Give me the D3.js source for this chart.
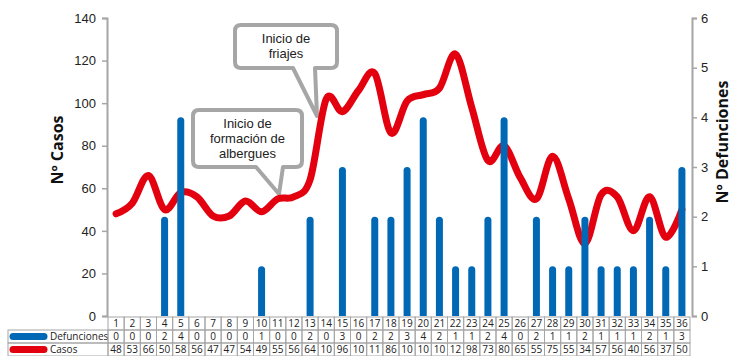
<!DOCTYPE html>
<html>
<head>
<meta charset="utf-8">
<script src="https://cdn.jsdelivr.net/npm/d3@7"></script>
<style>
  body { margin: 0; background: #fff; }
  svg { display: block; font-family: "Open Sans", "Liberation Sans", sans-serif; }
</style>
</head>
<body>
<svg id="chart" width="732" height="356"></svg>
<script>
// Semanas epidemiológicas
const weeks = d3.range(1, 37);
const defunciones = [0,0,0,2,4,0,0,0,0,1,0,0,2,0,3,0,2,2,3,4,2,1,1,2,4,0,2,1,1,2,1,1,1,2,1,3];
const casos = [48,53,66,50,58,56,47,47,54,49,55,56,64,102,96,106,114,86,101,104,107,123,98,73,80,65,55,75,55,34,57,56,40,56,37,50];
const casosTicks = [0,20,40,60,80,100,120,140];
const defTicks = [0,1,2,3,4,5,6];

const RED = '#e3000f';
const BLUE = '#0068b5';
const GRAY = '#a6a6a6';

const svg = d3.select('#chart');
const plot = { left: 108, right: 690, top: 18, bottom: 316 };

const x = d3.scaleBand().domain(weeks).range([plot.left, plot.right]).padding(0);
const cx = d => x(d) + x.bandwidth() / 2;
const yCasos = d3.scaleLinear().domain([0, 140]).range([plot.bottom, plot.top]);
const yDef = d3.scaleLinear().domain([0, 6]).range([plot.bottom, plot.top]);

// clip so bars end flat on the axis
svg.append('defs').append('clipPath').attr('id', 'plot-clip')
  .append('rect')
  .attr('x', plot.left).attr('y', 0)
  .attr('width', plot.right - plot.left).attr('height', plot.bottom);

// Axes
const leftAxis = svg.append('g')
  .attr('transform', `translate(${plot.left - 1},0)`)
  .call(d3.axisLeft(yCasos).tickValues(casosTicks).tickSize(5).tickPadding(6));
const rightAxis = svg.append('g')
  .attr('transform', `translate(${plot.right + 2},0)`)
  .call(d3.axisRight(yDef).tickValues(defTicks).tickFormat(d3.format('d')).tickSize(5).tickPadding(4));
[leftAxis, rightAxis].forEach(a => {
  a.select('.domain').attr('stroke', GRAY).attr('stroke-width', 2);
  a.selectAll('.tick line').attr('stroke', GRAY).attr('stroke-width', 1.5);
  a.selectAll('.tick text').attr('fill', '#222').attr('font-size', 13);
});

svg.append('text')
  .attr('transform', 'translate(63,150) rotate(-90)')
  .attr('text-anchor', 'middle')
  .attr('font-size', 16).attr('font-weight', 'bold').attr('fill', '#111')
  .text('Nº Casos');
svg.append('text')
  .attr('transform', 'translate(728,142) rotate(-90)')
  .attr('text-anchor', 'middle')
  .attr('font-size', 16).attr('font-weight', 'bold').attr('fill', '#111')
  .text('Nº Defunciones');

// Callouts
function callout(b, base, tip) {
  const r = 6;
  return `M${b.x0 + r},${b.y0} H${b.x1 - r} Q${b.x1},${b.y0} ${b.x1},${b.y0 + r}` +
    ` V${b.y1 - r} Q${b.x1},${b.y1} ${b.x1 - r},${b.y1}` +
    ` H${base[1]} L${tip[0]},${tip[1]} L${base[0]},${b.y1}` +
    ` H${b.x0 + r} Q${b.x0},${b.y1} ${b.x0},${b.y1 - r}` +
    ` V${b.y0 + r} Q${b.x0},${b.y0} ${b.x0 + r},${b.y0} Z`;
}
const notes = [
  { box: { x0: 235, y0: 25, x1: 337, y1: 68 }, base: [293, 315], tip: [317, 116],
    lines: ['Inicio de', 'friajes'], ty: 43 },
  { box: { x0: 193, y0: 110, x1: 302, y1: 167 }, base: [256, 283], tip: [279, 194],
    lines: ['Inicio de', 'formación de', 'albergues'], ty: 128 }
];
const noteG = svg.append('g');
notes.forEach(n => {
  noteG.append('path')
    .attr('d', callout(n.box, n.base, n.tip))
    .attr('fill', '#fff').attr('stroke', GRAY).attr('stroke-width', 4)
    .attr('stroke-linejoin', 'round');
  n.lines.forEach((t, i) => {
    noteG.append('text')
      .attr('x', (n.box.x0 + n.box.x1) / 2).attr('y', n.ty + i * 15)
      .attr('text-anchor', 'middle').attr('font-size', 13).attr('fill', '#222')
      .attr('font-family', '"Liberation Sans", sans-serif')
      .text(t);
  });
});

// Casos line
const line = d3.line()
  .x((d, i) => cx(weeks[i]))
  .y(d => yCasos(d))
  .curve(d3.curveCardinal.tension(0));
svg.append('path')
  .datum(casos)
  .attr('d', line)
  .attr('fill', 'none').attr('stroke', RED).attr('stroke-width', 7)
  .attr('stroke-linecap', 'round').attr('stroke-linejoin', 'round');

// Defunciones bars
const bw = 7;
svg.append('g').attr('clip-path', 'url(#plot-clip)')
  .selectAll('rect')
  .data(weeks.filter((w, i) => defunciones[i] > 0))
  .join('rect')
  .attr('x', d => cx(d) - bw / 2)
  .attr('y', d => yDef(defunciones[d - 1]))
  .attr('width', bw)
  .attr('height', d => plot.bottom - yDef(defunciones[d - 1]) + 6)
  .attr('rx', 3.5)
  .attr('fill', BLUE);

// Data table
const rowTop = 317, rowH = 13, labelX = 8;
const table = svg.append('g').attr('font-size', 10).attr('fill', '#222');
const rows = [
  { values: weeks, label: null },
  { values: defunciones, label: 'Defunciones', color: BLUE },
  { values: casos.map(v => String(v).slice(0, 2)), label: 'Casos', color: RED }
];
rows.forEach((row, r) => {
  const y0 = rowTop + r * rowH;
  if (row.label) {
    table.append('rect')
      .attr('x', labelX).attr('y', y0).attr('width', plot.left - labelX).attr('height', rowH)
      .attr('fill', 'none').attr('stroke', GRAY).attr('stroke-width', 1);
    table.append('line')
      .attr('x1', labelX + 5).attr('x2', labelX + 36)
      .attr('y1', y0 + rowH / 2).attr('y2', y0 + rowH / 2)
      .attr('stroke', row.color).attr('stroke-width', 7).attr('stroke-linecap', 'round');
    table.append('text')
      .attr('x', labelX + 42).attr('y', y0 + rowH / 2 + 3.5)
      .text(row.label);
  }
  weeks.forEach((w, i) => {
    table.append('rect')
      .attr('x', x(w)).attr('y', y0).attr('width', x.bandwidth()).attr('height', rowH)
      .attr('fill', 'none').attr('stroke', GRAY).attr('stroke-width', 1);
    table.append('text')
      .attr('x', cx(w)).attr('y', y0 + rowH / 2 + 3.5)
      .attr('text-anchor', 'middle')
      .text(row.values[i]);
  });
});
</script>
</body>
</html>
